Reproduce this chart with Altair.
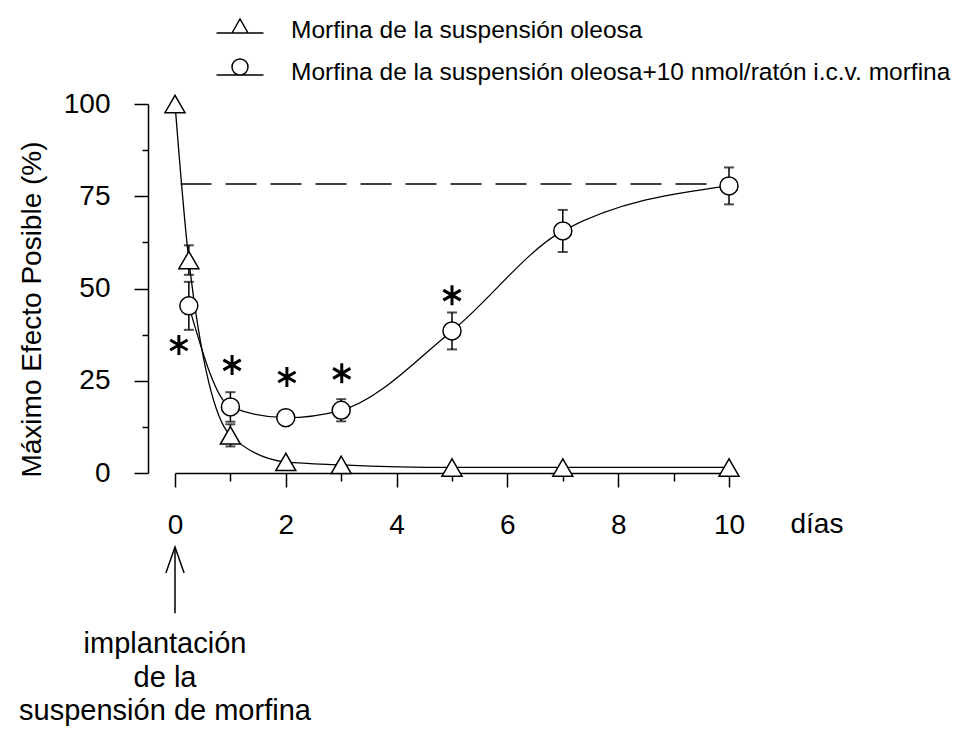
import altair as alt
import pandas as pd

# ---------------- data ----------------
serie_names = [
    "Morfina de la suspensión oleosa",
    "Morfina de la suspensión oleosa+10 nmol/ratón i.c.v. morfina",
]

oil_days = [0, 0.25, 1, 2, 3, 5, 7, 10]
oil_mpe = [100, 57.7, 10.2, 3.0, 2.2, 1.5, 1.5, 1.5]
oil_sem = [0, 4.0, 3.0, 0, 0, 0, 0, 0]

icv_days = [0.25, 1, 2, 3, 5, 7, 10]
icv_mpe = [45.3, 17.9, 15.0, 17.0, 38.5, 65.6, 77.8]
icv_sem = [6.5, 4.0, 1.0, 3.0, 5.0, 5.7, 5.0]

star_days = [0.07, 1.03, 2.02, 3.01, 5.0]
star_mpe = [34.7, 29.3, 26.0, 27.0, 48.2]

ref_level = [78.3]
ref_start = [0.1]
ref_end = [10]

x_major = [0, 2, 4, 6, 8, 10]
x_minor = [1, 3, 5, 7, 9]
y_major = [0, 25, 50, 75, 100]
y_minor = [12.5, 37.5, 62.5, 87.5]

note_text = ["implantación\nde la\nsuspensión de morfina"]
note_day = [0]

# ---------------- tables ----------------
oil = pd.DataFrame({"dia": oil_days, "mpe": oil_mpe, "err": oil_sem, "serie": serie_names[0]})
icv = pd.DataFrame({"dia": icv_days, "mpe": icv_mpe, "err": icv_sem, "serie": serie_names[1]})
both = pd.concat([oil, icv], ignore_index=True)
both["lo"] = both["mpe"] - both["err"]
both["hi"] = both["mpe"] + both["err"]
bars = both[both["err"] > 0]
stars = pd.DataFrame({"dia": star_days, "mpe": star_mpe})
ref = pd.DataFrame({"x0": ref_start, "x1": ref_end, "level": ref_level})

# annotation positions (in data units, below the axis)
note = pd.DataFrame({"dia": note_day, "txt": note_text,
                     "tip": [-20.6], "tail": [-38.0], "head": [-23.6], "ty": [-48.8]})

# ---------------- style ----------------
FONT = "Liberation Sans"
W, H = 554, 369
XS = alt.Scale(domain=[0, 10], nice=False, zero=False)
YS = alt.Scale(domain=[0, 100], nice=False, zero=False)

common = dict(domainColor="black", domainWidth=1.5, tickColor="black", tickWidth=1.5,
              grid=False, labelFont=FONT, labelFontSize=28, labelColor="black",
              labelFlush=False, labelOverlap=False)

x_axis = alt.Axis(
    orient="bottom", values=x_major, tickSize=14, labelPadding=24, labelAngle=0,
    title="días", titleX=615, titleY=59, titleAlign="left", titleBaseline="alphabetic",
    titleAngle=0, titleFont=FONT, titleFontSize=28, titleFontWeight="normal", titleColor="black",
    **common)
x_axis_minor = alt.Axis(orient="bottom", values=x_minor, tickSize=8, labels=False, domain=False,
                        tickColor="black", tickWidth=1.5, grid=False, title=None)

y_axis = alt.Axis(
    orient="left", values=y_major, tickSize=14, offset=27, labelPadding=24,
    title="Máximo Efecto Posible (%)", titleX=-108, titleY=205, titleAlign="center",
    titleBaseline="alphabetic", titleAngle=270, titleFont=FONT, titleFontSize=28,
    titleFontWeight="normal", titleColor="black", **common)
y_axis_minor = alt.Axis(orient="left", values=y_minor, tickSize=6, offset=27, labels=False,
                        domain=False, tickColor="black", tickWidth=1.5, grid=False, title=None)


def X(field, axis=None):
    return alt.X(field, type="quantitative", scale=XS, axis=axis)


def Y(field, axis=None):
    return alt.Y(field, type="quantitative", scale=YS, axis=axis)


STAR = "M0,-1L0,1M-0.866,-0.5L0.866,0.5M-0.866,0.5L0.866,-0.5"
LEG_TRI = "M-1.175,0.1L1.175,0.1M-0.4,0.1L0,-0.6L0.4,0.1Z"
LEG_CIRC = ("M-1.175,0.1L1.175,0.1M-0.4,-0.3A0.4,0.4 0 1,1 0.4,-0.3"
            "A0.4,0.4 0 1,1 -0.4,-0.3Z")
ARROW = "M-0.7,1L0,-1L0.7,1"

ref_layer = alt.Chart(ref).mark_rule(strokeDash=[31, 14], color="black", strokeWidth=1.5).encode(
    x=X("x0", x_axis), x2="x1", y=Y("level", y_axis))

oil_line = alt.Chart(oil).mark_line(interpolate="monotone", color="black", strokeWidth=1.3).encode(
    x=X("dia", x_axis_minor), y=Y("mpe", y_axis_minor))
icv_line = alt.Chart(icv).mark_line(interpolate="monotone", color="black", strokeWidth=1.3).encode(
    x=X("dia"), y=Y("mpe"))

err_rule = alt.Chart(bars).mark_rule(color="black", strokeWidth=1.5).encode(
    x=X("dia"), y=Y("lo"), y2="hi")
cap_lo = alt.Chart(bars).mark_tick(orient="horizontal", size=10, thickness=2, color="black").encode(
    x=X("dia"), y=Y("lo"))
cap_hi = alt.Chart(bars).mark_tick(orient="horizontal", size=10, thickness=2, color="black").encode(
    x=X("dia"), y=Y("hi"))

oil_pts = alt.Chart(oil).mark_point(shape="triangle-up", size=400, filled=True, fill="white",
                                     stroke="black", strokeWidth=1.5, opacity=1).encode(
    x=X("dia"), y=Y("mpe"))
icv_pts = alt.Chart(icv).mark_point(shape="circle", size=324, filled=True, fill="white",
                                     stroke="black", strokeWidth=1.5, opacity=1).encode(
    x=X("dia"), y=Y("mpe"))

star_pts = alt.Chart(stars).mark_point(shape=STAR, size=400, filled=False, stroke="black",
                                        strokeWidth=3, opacity=1).encode(
    x=X("dia"), y=Y("mpe"))

# legend carrier: draws nothing itself (empty after filter), only provides the legend
legend_layer = alt.Chart(both).transform_filter("datum.dia < -1000").mark_point(
    filled=False, color="black", strokeWidth=1.5, size=1600, opacity=1).encode(
    x=X("dia"), y=Y("mpe"),
    shape=alt.Shape("serie:N",
                    scale=alt.Scale(domain=serie_names, range=[LEG_TRI, LEG_CIRC]),
                    legend=alt.Legend(orient="none", legendX=44, legendY=-94, title=None,
                                      symbolSize=1600, symbolOpacity=1,
                                      symbolStrokeColor="black",
                                      symbolStrokeWidth=1.5, labelFont=FONT, labelFontSize=24.5,
                                      labelColor="black", labelLimit=2000, labelOffset=30,
                                      rowPadding=9, padding=0)))

arrow_shaft = alt.Chart(note).mark_rule(color="black", strokeWidth=1.5).encode(
    x=X("dia"), y=Y("tip"), y2="tail")
arrow_head = alt.Chart(note).mark_point(shape=ARROW, size=676, filled=False, stroke="black",
                                         strokeWidth=1.5, opacity=1).encode(
    x=X("dia"), y=Y("head"))
note_txt = alt.Chart(note).mark_text(lineBreak="\n", font=FONT, fontSize=29, align="center",
                                      baseline="alphabetic", dx=-10, lineHeight=33.5,
                                      color="black").encode(
    x=X("dia"), y=Y("ty"), text="txt:N")

chart = alt.layer(
    ref_layer, oil_line, icv_line, err_rule, cap_lo, cap_hi, oil_pts, icv_pts, star_pts,
    legend_layer, arrow_shaft, arrow_head, note_txt,
).resolve_axis(x="independent", y="independent").properties(
    width=W, height=H,
    padding={"left": 175, "top": 104, "right": 232, "bottom": 258},
    autosize=alt.AutoSizeParams(type="none"),
).configure(font=FONT, background="white").configure_view(stroke=None)

chart.save("out.html", embed_options={"renderer": "svg", "actions": False})
